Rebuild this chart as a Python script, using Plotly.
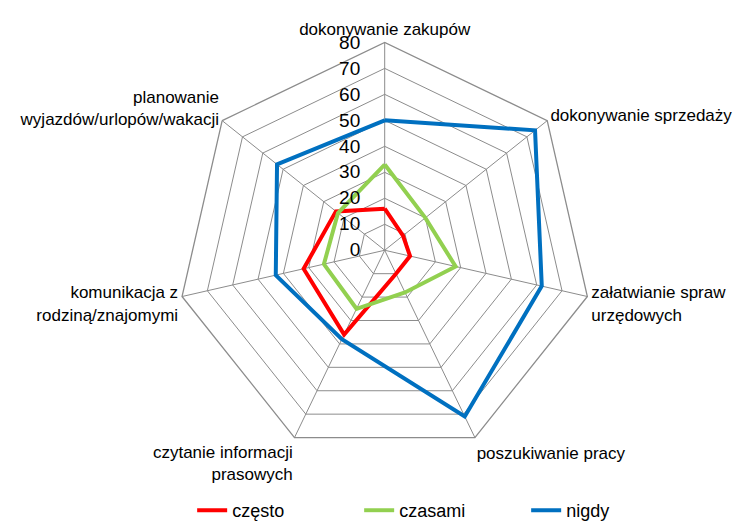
import plotly.graph_objects as go

categories = ['dokonywanie zakupów', 'dokonywanie sprzedaży', 'załatwianie spraw<br>urzędowych',
              'poszukiwanie pracy', 'czytanie informacji<br>prasowych', 'komunikacja z<br>rodziną/znajomymi',
              'planowanie<br>wyjazdów/urlopów/wakacji']
czesto = [16, 9, 10, 10, 36, 32, 24]
czasami = [33, 20, 28, 18, 25, 24, 23]
nigdy = [50, 74, 62, 71, 38, 43, 53]

series = [('często', czesto, '#FF0000'), ('czasami', czasami, '#92D050'), ('nigdy', nigdy, '#0070C0')]

font_family = 'Liberation Sans Narrow, Arial Narrow, Liberation Sans, Arial'

fig = go.Figure()
for name, vals, color in series:
    fig.add_trace(go.Scatterpolar(
        r=vals + vals[:1],
        theta=categories + categories[:1],
        mode='lines',
        name=name,
        line=dict(color=color, width=4),
    ))

fig.update_layout(
    width=743, height=521,
    paper_bgcolor='white',
    margin=dict(l=0, r=0, t=0, b=0),
    font=dict(family=font_family, size=17, color='black'),
    polar=dict(
        domain=dict(x=[0.227, 0.787], y=[0.136, 0.934]),
        gridshape='linear',
        bgcolor='white',
        radialaxis=dict(
            range=[0, 80], dtick=10, angle=90, tickangle=90, side='counterclockwise',
            ticksuffix='\u00a0' * 4,
            showline=False, gridcolor='#8c8c8c', gridwidth=1.3,
            ticks='', tickfont=dict(size=19),
        ),
        angularaxis=dict(
            direction='clockwise', rotation=90,
            showline=True, linecolor='#8c8c8c', linewidth=1.3,
            gridcolor='#8c8c8c', gridwidth=1.3, ticks='',
            tickfont=dict(size=17),
        ),
    ),
    legend=dict(orientation='h', x=0.585, xanchor='center', y=0.0, yanchor='bottom',
                entrywidth=122, font=dict(size=18)),
)

fig.write_html('out.html')
